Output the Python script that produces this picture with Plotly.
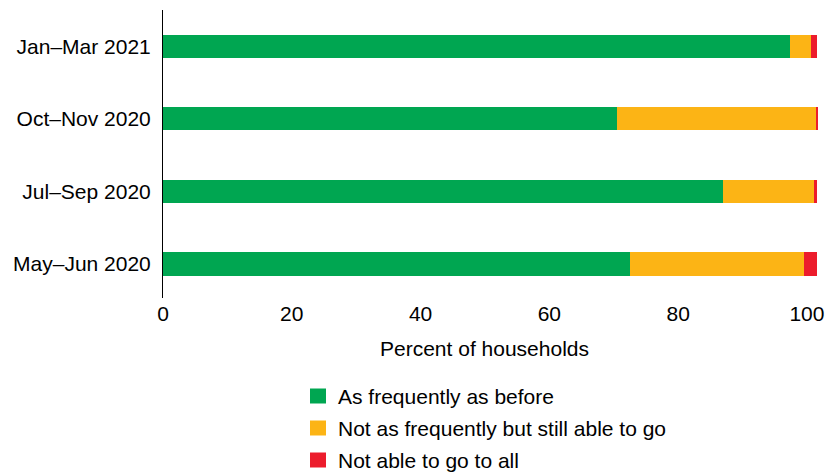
import plotly.graph_objects as go

periods = ["May–Jun 2020", "Jul–Sep 2020", "Oct–Nov 2020", "Jan–Mar 2021"]
as_before = [72.5, 87.0, 70.5, 97.4]
less_often = [27.0, 14.1, 30.9, 3.3]
not_able = [2.1, 0.5, 0.4, 0.9]

series_names = [
    "As frequently as before",
    "Not as frequently but still able to go",
    "Not able to go to all",
]
colors = ["#00A651", "#FCB415", "#EC1C2C"]
x_ticks = [0, 20, 40, 60, 80, 100]

FONT = "Liberation Sans, Arial, Helvetica, sans-serif"

# figure geometry (pixels)
W, H = 826, 474
M_L, M_R, M_T, M_B = 163, 3, 10, 176
PLOT_W = W - M_L - M_R
PLOT_H = H - M_T - M_B


def px_x(px):
    return (px - M_L) / PLOT_W


def px_y(py):
    return (H - M_B - py) / PLOT_H


fig = go.Figure()
for name, vals, col in zip(series_names, [as_before, less_often, not_able], colors):
    fig.add_trace(go.Bar(
        y=periods, x=vals, orientation="h", name=name,
        marker=dict(color=col, line=dict(width=0)),
        showlegend=False,
    ))

# legend: coloured squares with labels, stacked below the axis title
shapes, annotations = [], []
row_centres = [396, 428, 460]
for name, col, cy in zip(series_names, colors, row_centres):
    shapes.append(dict(
        type="rect", xref="paper", yref="paper",
        x0=px_x(310), x1=px_x(326), y0=px_y(cy + 7.5), y1=px_y(cy - 7.5),
        fillcolor=col, line=dict(width=0),
    ))
    annotations.append(dict(
        text=name, xref="paper", yref="paper",
        x=px_x(336), y=px_y(cy), xanchor="left", yanchor="middle",
        showarrow=False, font=dict(size=21),
    ))

annotations.append(dict(
    text="Percent of households", x=50, xref="x",
    y=px_y(348), yref="paper", yanchor="middle", xanchor="center",
    showarrow=False, font=dict(size=21),
))

fig.update_layout(
    width=W, height=H,
    barmode="stack", bargap=0.68,
    margin=dict(l=M_L, r=M_R, t=M_T, b=M_B),
    paper_bgcolor="white", plot_bgcolor="white",
    font=dict(family=FONT, size=21, color="#000000"),
    showlegend=False,
    shapes=shapes,
    annotations=annotations,
)
fig.update_xaxes(
    range=[0, 102.5], tickvals=x_ticks, ticktext=[str(v) for v in x_ticks],
    showgrid=False, zeroline=False, showline=False, ticks="",
    ticklabelstandoff=1,
)
fig.update_yaxes(
    range=[-0.47, 3.5], showgrid=False, zeroline=False,
    showline=True, linecolor="#000000", linewidth=1,
    ticks="", ticklabelstandoff=7,
)

fig.write_html("out.html")
